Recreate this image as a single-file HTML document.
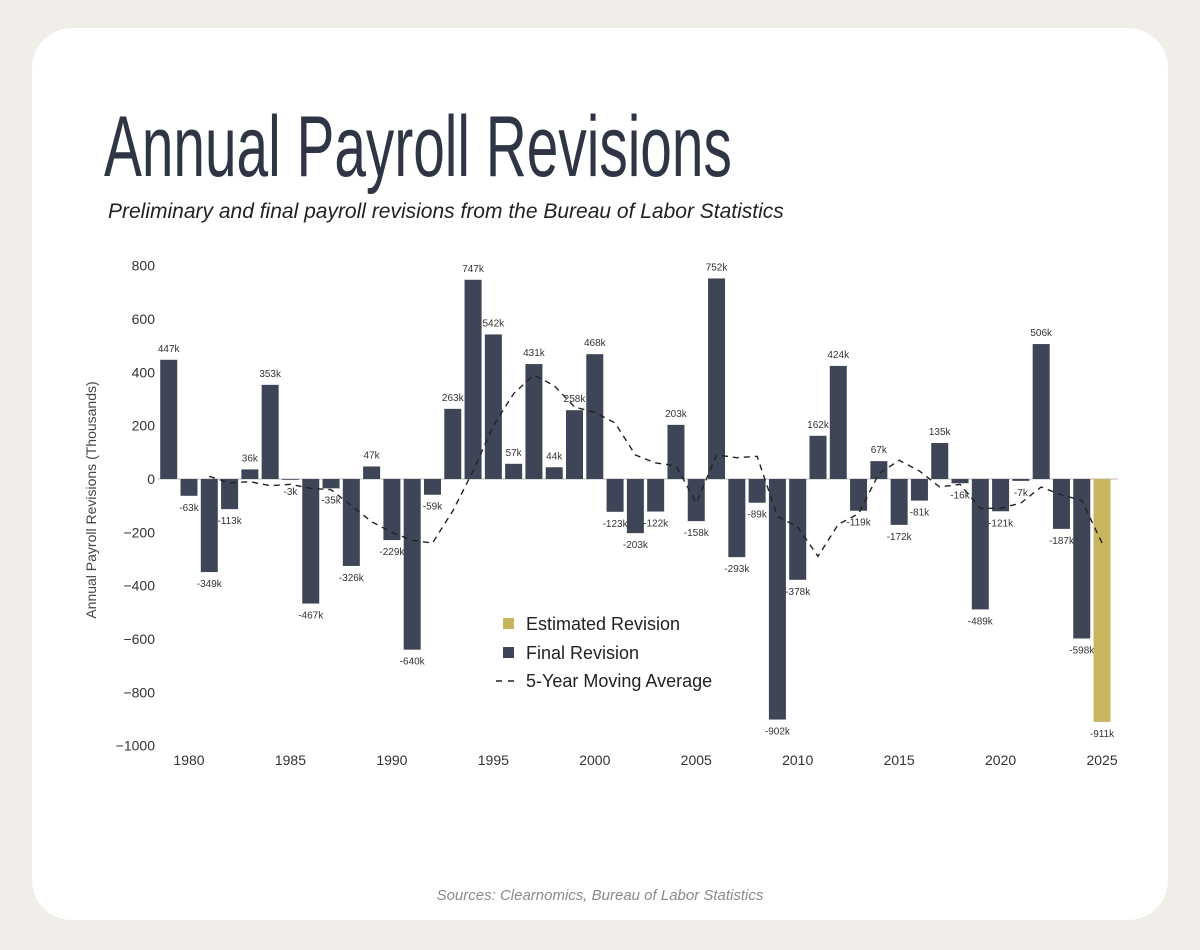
<!DOCTYPE html>
<html><head><meta charset="utf-8"><style>
body{margin:0;width:1200px;height:950px;background:#f1eee9;font-family:"Liberation Sans",sans-serif;overflow:hidden}
#card{position:absolute;left:32px;top:28px;width:1136px;height:892px;background:#fff;border-radius:40px}
#title{position:absolute;left:104px;top:104px;font-family:"Liberation Sans",sans-serif;font-size:86px;color:#2f3544;white-space:nowrap;line-height:1;transform:scaleX(0.66);transform-origin:0 0}
#sub{position:absolute;left:108px;top:200px;font-size:21px;font-style:italic;color:#222;white-space:nowrap}
#src{position:absolute;left:0;width:1200px;top:887px;text-align:center;font-size:15px;font-style:italic;color:#8a8a8a}
svg{position:absolute;left:0;top:0}
</style></head><body>
<div id="card"></div>
<div id="title">Annual Payroll Revisions</div>
<div id="sub">Preliminary and final payroll revisions from the Bureau of Labor Statistics</div>
<div id="src">Sources: Clearnomics, Bureau of Labor Statistics</div>
<svg id="chart" width="1200" height="950"></svg>
<script>
const years=[1979,1980,1981,1982,1983,1984,1985,1986,1987,1988,1989,1990,1991,1992,1993,1994,1995,1996,1997,1998,1999,2000,2001,2002,2003,2004,2005,2006,2007,2008,2009,2010,2011,2012,2013,2014,2015,2016,2017,2018,2019,2020,2021,2022,2023,2024,2025];
const revisions=[447,-63,-349,-113,36,353,-3,-467,-35,-326,47,-229,-640,-59,263,747,542,57,431,44,258,468,-123,-203,-122,203,-158,752,-293,-89,-902,-378,162,424,-119,67,-172,-81,135,-16,-489,-121,-7,506,-187,-598,-911];
const maYears=[1981,1982,1983,1984,1985,1986,1987,1988,1989,1990,1991,1992,1993,1994,1995,1996,1997,1998,1999,2000,2001,2002,2003,2004,2005,2006,2007,2008,2009,2010,2011,2012,2013,2014,2015,2016,2017,2018,2019,2020,2021,2022,2023,2024,2025];
const movingAvg=[10,-15,-10,-25,-20,-35,-40,-100,-160,-200,-230,-240,-120,30,200,320,390,350,270,250,210,90,60,50,-90,90,80,85,-140,-180,-290,-170,-130,20,70,30,-30,-20,-110,-110,-90,-30,-60,-80,-240];
const yTicks=[800,600,400,200,0,-200,-400,-600,-800,-1000];
const xTicks=[1980,1985,1990,1995,2000,2005,2010,2015,2020,2025];
const svg=document.getElementById('chart');const NS='http://www.w3.org/2000/svg';
const X=y=>189+(y-1980)*20.29;const Y=v=>479-v*0.2667;
function mk(t,a){const e=document.createElementNS(NS,t);for(const k in a)e.setAttribute(k,a[k]);svg.appendChild(e);return e;}
yTicks.forEach(v=>{const t=mk('text',{x:155,y:Y(v)+5,'text-anchor':'end','font-size':14,fill:'#333'});t.textContent=v<0?'\u2212'+(-v):v;

});
xTicks.forEach(v=>{const t=mk('text',{x:X(v),y:765,'text-anchor':'middle','font-size':14,fill:'#333'});t.textContent=v;

});
const yt=mk('text',{x:0,y:0,transform:'translate(96,500) rotate(-90)','text-anchor':'middle','font-size':14,fill:'#444'});yt.textContent='Annual Payroll Revisions (Thousands)';


const zl=mk('line',{x1:158,x2:1118,y1:Y(0),y2:Y(0),stroke:'#bbb','stroke-width':1});


years.forEach((yr,i)=>{const v=revisions[i];const est=yr===2025;
const r=mk('rect',{x:X(yr)-8.5,y:Math.min(Y(v),Y(0)),width:17,height:Math.abs(Y(v)-Y(0)),fill:est?'#c8b560':'#3e4556'});


const t=mk('text',{x:X(yr),y:v>=0?Y(v)-8:Y(v)+15,'text-anchor':'middle','font-size':10,fill:'#333'});t.textContent=v+'k';

});
const p=mk('path',{d:maYears.map((y,i)=>(i?'L':'M')+X(y)+' '+Y(movingAvg[i])).join(' '),fill:'none',stroke:'#222','stroke-width':1.4,'stroke-dasharray':'6,5'});


const leg=[['#c8b560','Estimated Revision',624],['#3e4556','Final Revision',653]];
leg.forEach(l=>{const r=mk('rect',{x:503,y:l[2]-6,width:11,height:11,fill:l[0]});


const t=mk('text',{x:526,y:l[2]+6,'font-size':18,fill:'#222'});t.textContent=l[1];

});
const ll=mk('line',{x1:496,x2:520,y1:681,y2:681,stroke:'#222','stroke-width':1.5,'stroke-dasharray':'6,6'});


const lt=mk('text',{x:526,y:687,'font-size':18,fill:'#222'});lt.textContent='5-Year Moving Average';


</script></body></html>
